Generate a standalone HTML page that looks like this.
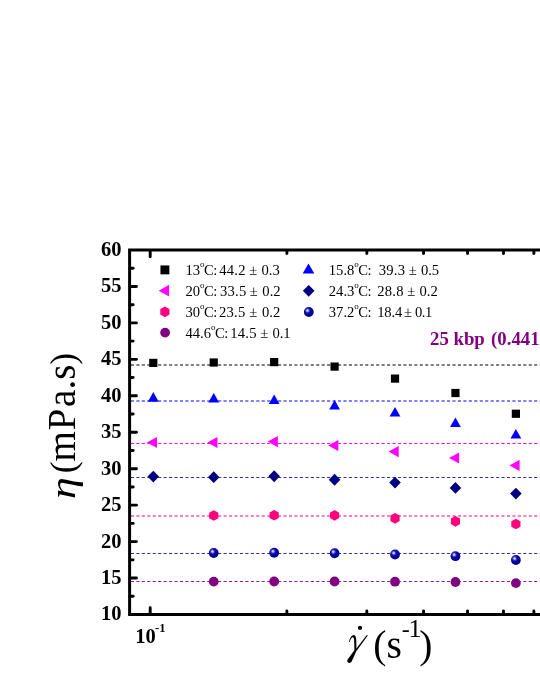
<!DOCTYPE html>
<html><head><meta charset="utf-8"><title>chart</title>
<style>html,body{margin:0;padding:0;background:#fff;font-family:"Liberation Serif",serif;}svg{display:block;will-change:transform}</style>
</head><body>
<svg width="540" height="699" viewBox="0 0 540 699">
<defs><radialGradient id="sph" cx="0.37" cy="0.35" r="0.66" fx="0.37" fy="0.35"><stop offset="0" stop-color="#eeeefa"/><stop offset="0.13" stop-color="#b8b8ea"/><stop offset="0.28" stop-color="#4040bc"/><stop offset="0.45" stop-color="#0808a4"/><stop offset="0.8" stop-color="#00009a"/><stop offset="1" stop-color="#000084"/></radialGradient></defs>
<rect width="540" height="699" fill="#fff"/>
<line x1="130.9" y1="365.00" x2="541" y2="365.00" stroke="#000000" stroke-width="1.05" stroke-dasharray="3.1 2.35"/>
<line x1="130.9" y1="401.00" x2="541" y2="401.00" stroke="#0000ff" stroke-width="1.05" stroke-dasharray="3.1 2.35"/>
<line x1="130.9" y1="443.50" x2="541" y2="443.50" stroke="#ff00ff" stroke-width="1.05" stroke-dasharray="3.1 2.35"/>
<line x1="130.9" y1="477.50" x2="541" y2="477.50" stroke="#3030a8" stroke-width="1.05" stroke-dasharray="3.1 2.35"/>
<line x1="130.9" y1="516.00" x2="541" y2="516.00" stroke="#ff007f" stroke-width="1.05" stroke-dasharray="3.1 2.35"/>
<line x1="130.9" y1="553.50" x2="541" y2="553.50" stroke="#3030a8" stroke-width="1.05" stroke-dasharray="3.1 2.35"/>
<line x1="130.9" y1="581.40" x2="541" y2="581.40" stroke="#902090" stroke-width="1.05" stroke-dasharray="3.1 2.35"/>
<g stroke="#000" stroke-width="3.0" fill="none" stroke-linecap="butt">
<path d="M541 250.0 H129.6 V614.5 H541" stroke-linejoin="miter"/>
</g>
<g stroke="#000" stroke-width="2.9" stroke-linecap="round">
<line x1="130.2" y1="596.27" x2="133.15" y2="596.27"/>
<line x1="130.2" y1="578.05" x2="136.45" y2="578.05"/>
<line x1="130.2" y1="559.83" x2="133.15" y2="559.83"/>
<line x1="130.2" y1="541.60" x2="136.45" y2="541.60"/>
<line x1="130.2" y1="523.38" x2="133.15" y2="523.38"/>
<line x1="130.2" y1="505.15" x2="136.45" y2="505.15"/>
<line x1="130.2" y1="486.93" x2="133.15" y2="486.93"/>
<line x1="130.2" y1="468.70" x2="136.45" y2="468.70"/>
<line x1="130.2" y1="450.48" x2="133.15" y2="450.48"/>
<line x1="130.2" y1="432.25" x2="136.45" y2="432.25"/>
<line x1="130.2" y1="414.02" x2="133.15" y2="414.02"/>
<line x1="130.2" y1="395.80" x2="136.45" y2="395.80"/>
<line x1="130.2" y1="377.57" x2="133.15" y2="377.57"/>
<line x1="130.2" y1="359.35" x2="136.45" y2="359.35"/>
<line x1="130.2" y1="341.12" x2="133.15" y2="341.12"/>
<line x1="130.2" y1="322.90" x2="136.45" y2="322.90"/>
<line x1="130.2" y1="304.68" x2="133.15" y2="304.68"/>
<line x1="130.2" y1="286.45" x2="136.45" y2="286.45"/>
<line x1="130.2" y1="268.23" x2="133.15" y2="268.23"/>
<line x1="150.20" y1="250.6" x2="150.20" y2="256.80"/>
<line x1="150.20" y1="613.9" x2="150.20" y2="607.70"/>
<line x1="286.87" y1="250.6" x2="286.87" y2="253.55"/>
<line x1="286.87" y1="613.9" x2="286.87" y2="610.95"/>
<line x1="366.81" y1="250.6" x2="366.81" y2="253.55"/>
<line x1="366.81" y1="613.9" x2="366.81" y2="610.95"/>
<line x1="423.54" y1="250.6" x2="423.54" y2="253.55"/>
<line x1="423.54" y1="613.9" x2="423.54" y2="610.95"/>
<line x1="467.53" y1="250.6" x2="467.53" y2="253.55"/>
<line x1="467.53" y1="613.9" x2="467.53" y2="610.95"/>
<line x1="503.48" y1="250.6" x2="503.48" y2="253.55"/>
<line x1="503.48" y1="613.9" x2="503.48" y2="610.95"/>
<line x1="533.87" y1="250.6" x2="533.87" y2="253.55"/>
<line x1="533.87" y1="613.9" x2="533.87" y2="610.95"/>
</g>
<g font-family="'Liberation Serif', serif" font-weight="bold" font-size="20.5px" fill="#000" text-anchor="end">
<text x="121.6" y="620.40">10</text>
<text x="121.6" y="583.95">15</text>
<text x="121.6" y="547.50">20</text>
<text x="121.6" y="511.05">25</text>
<text x="121.6" y="474.60">30</text>
<text x="121.6" y="438.15">35</text>
<text x="121.6" y="401.70">40</text>
<text x="121.6" y="365.25">45</text>
<text x="121.6" y="328.80">50</text>
<text x="121.6" y="292.35">55</text>
<text x="121.6" y="255.90">60</text>
</g>
<text x="135.2" y="643" font-family="'Liberation Serif', serif" font-weight="bold" font-size="20.5px" fill="#000">10<tspan font-size="12.5px" dy="-11.5" dx="-0.7">-1</tspan></text>
<rect x="149.20" y="358.80" width="8.2" height="8.2" fill="#000"/>
<path d="M153.30 392.10 L158.70 401.70 L147.90 401.70Z" fill="#0000ff"/>
<path d="M146.90 442.50 L157.00 436.90 L157.00 448.10Z" fill="#ff00ff"/>
<path d="M153.30 470.70 L159.10 476.60 L153.30 482.50 L147.50 476.60Z" fill="#000080"/>
<rect x="209.63" y="358.40" width="8.2" height="8.2" fill="#000"/>
<path d="M213.73 393.00 L219.13 402.60 L208.33 402.60Z" fill="#0000ff"/>
<path d="M207.33 442.50 L217.43 436.90 L217.43 448.10Z" fill="#ff00ff"/>
<path d="M213.73 471.30 L219.53 477.20 L213.73 483.10 L207.93 477.20Z" fill="#000080"/>
<path d="M213.73 510.15 L218.33 512.83 L218.33 518.17 L213.73 520.85 L209.13 518.17 L209.13 512.83Z" fill="#ff007f"/>
<circle cx="213.73" cy="553.00" r="4.9" fill="url(#sph)"/>
<circle cx="213.73" cy="581.60" r="4.9" fill="#800080"/>
<rect x="270.06" y="358.00" width="8.2" height="8.2" fill="#000"/>
<path d="M274.16 394.50 L279.56 404.10 L268.76 404.10Z" fill="#0000ff"/>
<path d="M267.76 441.60 L277.86 436.00 L277.86 447.20Z" fill="#ff00ff"/>
<path d="M274.16 470.35 L279.96 476.25 L274.16 482.15 L268.36 476.25Z" fill="#000080"/>
<path d="M274.16 509.90 L278.76 512.58 L278.76 517.92 L274.16 520.60 L269.56 517.92 L269.56 512.58Z" fill="#ff007f"/>
<circle cx="274.16" cy="552.75" r="4.9" fill="url(#sph)"/>
<circle cx="274.16" cy="581.50" r="4.9" fill="#800080"/>
<rect x="330.49" y="362.50" width="8.2" height="8.2" fill="#000"/>
<path d="M334.59 400.00 L339.99 409.60 L329.19 409.60Z" fill="#0000ff"/>
<path d="M328.19 445.50 L338.29 439.90 L338.29 451.10Z" fill="#ff00ff"/>
<path d="M334.59 473.85 L340.39 479.75 L334.59 485.65 L328.79 479.75Z" fill="#000080"/>
<path d="M334.59 510.05 L339.19 512.73 L339.19 518.07 L334.59 520.75 L329.99 518.07 L329.99 512.73Z" fill="#ff007f"/>
<circle cx="334.59" cy="553.25" r="4.9" fill="url(#sph)"/>
<circle cx="334.59" cy="581.50" r="4.9" fill="#800080"/>
<rect x="390.92" y="374.50" width="8.2" height="8.2" fill="#000"/>
<path d="M395.02 407.00 L400.42 416.60 L389.62 416.60Z" fill="#0000ff"/>
<path d="M388.62 451.60 L398.72 446.00 L398.72 457.20Z" fill="#ff00ff"/>
<path d="M395.02 476.70 L400.82 482.60 L395.02 488.50 L389.22 482.60Z" fill="#000080"/>
<path d="M395.02 512.95 L399.62 515.62 L399.62 520.97 L395.02 523.65 L390.42 520.97 L390.42 515.62Z" fill="#ff007f"/>
<circle cx="395.02" cy="554.50" r="4.9" fill="url(#sph)"/>
<circle cx="395.02" cy="581.70" r="4.9" fill="#800080"/>
<rect x="451.35" y="388.90" width="8.2" height="8.2" fill="#000"/>
<path d="M455.45 417.50 L460.85 427.10 L450.05 427.10Z" fill="#0000ff"/>
<path d="M449.05 458.00 L459.15 452.40 L459.15 463.60Z" fill="#ff00ff"/>
<path d="M455.45 482.00 L461.25 487.90 L455.45 493.80 L449.65 487.90Z" fill="#000080"/>
<path d="M455.45 515.95 L460.05 518.62 L460.05 523.97 L455.45 526.65 L450.85 523.97 L450.85 518.62Z" fill="#ff007f"/>
<circle cx="455.45" cy="556.20" r="4.9" fill="url(#sph)"/>
<circle cx="455.45" cy="582.00" r="4.9" fill="#800080"/>
<rect x="511.78" y="409.65" width="8.2" height="8.2" fill="#000"/>
<path d="M515.88 429.00 L521.28 438.60 L510.48 438.60Z" fill="#0000ff"/>
<path d="M509.48 465.40 L519.58 459.80 L519.58 471.00Z" fill="#ff00ff"/>
<path d="M515.88 487.70 L521.68 493.60 L515.88 499.50 L510.08 493.60Z" fill="#000080"/>
<path d="M515.88 518.65 L520.48 521.33 L520.48 526.67 L515.88 529.35 L511.28 526.67 L511.28 521.33Z" fill="#ff007f"/>
<circle cx="515.88" cy="560.00" r="4.9" fill="url(#sph)"/>
<circle cx="515.88" cy="583.10" r="4.9" fill="#800080"/>
<rect x="160.45" y="265.45" width="8.9" height="8.9" fill="#000"/>
<path d="M158.7 290.65 L169.05 284.85 L169.05 296.45Z" fill="#ff00ff"/>
<path d="M164.90 306.45 L169.50 309.12 L169.50 314.48 L164.90 317.15 L160.30 314.48 L160.30 309.12Z" fill="#ff007f"/>
<circle cx="165.10" cy="332.60" r="4.9" fill="#800080"/>
<path d="M308.50 263.40 L314.30 273.40 L302.70 273.40Z" fill="#0000ff"/>
<path d="M308.70 284.95 L314.50 290.85 L308.70 296.75 L302.90 290.85Z" fill="#000080"/>
<circle cx="308.80" cy="312.00" r="4.9" fill="url(#sph)"/>
<g font-family="'Liberation Serif', serif" font-size="14.6px" fill="#000">
<text x="185.5" y="274.90" xml:space="preserve">13<tspan font-size="9px" dy="-8.3">o</tspan><tspan dy="8.3" dx="-0.5">C</tspan><tspan dx="-0.6">:</tspan><tspan dx="1.9" letter-spacing="0.25">44.2</tspan><tspan dx="3.5">±</tspan><tspan dx="4.2" letter-spacing="0">0.3</tspan></text>
<text x="185.5" y="296.15" xml:space="preserve">20<tspan font-size="9px" dy="-8.3">o</tspan><tspan dy="8.3" dx="-0.5">C</tspan><tspan dx="-0.6">:</tspan><tspan dx="2.6" letter-spacing="0.25">33.5</tspan><tspan dx="3.3">±</tspan><tspan dx="4.6" letter-spacing="0">0.2</tspan></text>
<text x="185.5" y="317.40" xml:space="preserve">30<tspan font-size="9px" dy="-8.3">o</tspan><tspan dy="8.3" dx="-0.5">C</tspan><tspan dx="-0.6">:</tspan><tspan dx="1.7" letter-spacing="0.25">23.5</tspan><tspan dx="3.7">±</tspan><tspan dx="4.7" letter-spacing="0">0.2</tspan></text>
<text x="185.5" y="338.40" xml:space="preserve">44.6<tspan font-size="9px" dy="-8.3">o</tspan><tspan dy="8.3" dx="-0.5">C</tspan><tspan dx="-0.6">:</tspan><tspan dx="1.9" letter-spacing="0.25">14.5</tspan><tspan dx="3.5">±</tspan><tspan dx="4.2" letter-spacing="0">0.1</tspan></text>
<text x="328.8" y="274.90" xml:space="preserve">15.8<tspan font-size="9px" dy="-8.3">o</tspan><tspan dy="8.3" dx="-0.5">C</tspan><tspan dx="-0.6">:</tspan><tspan dx="7.1" letter-spacing="0.25">39.3</tspan><tspan dx="3.5">±</tspan><tspan dx="4.2" letter-spacing="0">0.5</tspan></text>
<text x="328.8" y="296.15" xml:space="preserve">24.3<tspan font-size="9px" dy="-8.3">o</tspan><tspan dy="8.3" dx="-0.5">C</tspan><tspan dx="-0.6">:</tspan><tspan dx="5.65" letter-spacing="0.25">28.8</tspan><tspan dx="3.5">±</tspan><tspan dx="4.2" letter-spacing="0">0.2</tspan></text>
<text x="328.8" y="317.40" xml:space="preserve">37.2<tspan font-size="9px" dy="-8.3">o</tspan><tspan dy="8.3" dx="-0.5">C</tspan><tspan dx="-0.6">:</tspan><tspan dx="5.65" letter-spacing="-0.12">18.4</tspan><tspan dx="1.7">±</tspan><tspan dx="3.0" letter-spacing="-0.5">0.1</tspan></text>
</g>
<text x="430" y="345" font-family="'Liberation Serif', serif" font-weight="bold" font-size="18.8px" fill="#800080" xml:space="preserve">25 kbp <tspan dx="1.6">(0.441</tspan></text>
<g font-family="'Liberation Serif', serif" fill="#000">
<text transform="translate(75.2,498.9) rotate(-90) scale(1.2,1)" font-size="36.5px" font-style="italic">η</text>
<text transform="translate(75.2,473.2) rotate(-90)" font-size="39px" xml:space="preserve"><tspan font-size="35.5px">(</tspan><tspan dx="-0.2">m</tspan><tspan dx="0.9">P</tspan><tspan dx="1.7">a.s</tspan><tspan font-size="35.5px">)</tspan></text>
<path d="M349.0 641.9 C349.6 638.6 351.6 635.0 353.9 635.0 C355.6 635.0 356.1 637.2 356.3 640.2 L356.4 648.6 L366.6 635.3 L368.0 635.3 L356.3 651.2 L351.9 661.0 C351.0 663.0 349.2 663.3 348.1 662.6 C346.9 661.8 347.0 660.3 348.0 659.0 L354.4 650.2 L354.2 641.5 C354.1 638.7 353.6 637.3 352.7 637.3 C351.5 637.3 350.3 639.5 349.7 642.1 Z" fill="#000"/>
<text x="373.3" y="657.8" font-size="39.5px" xml:space="preserve"><tspan>(s</tspan><tspan font-size="24px" dy="-20.9">-</tspan><tspan font-size="26px" dx="-1.3">1</tspan><tspan dy="20.9" dx="-2.3">)</tspan></text>
<circle cx="360.0" cy="627.8" r="2.15" fill="#000"/>
</g>
</svg>
</body></html>
